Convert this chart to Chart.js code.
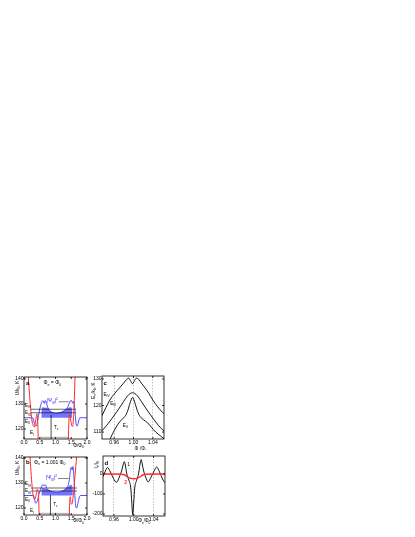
<!DOCTYPE html>
<html><head><meta charset="utf-8">
<script src="https://cdn.jsdelivr.net/npm/chart.js@4.4.1/dist/chart.umd.min.js"></script>
<style>
html,body{margin:0;padding:0;background:#fff;width:415px;height:537px;overflow:hidden}
canvas{position:absolute;background:transparent}
</style></head><body>
<canvas id="ca" width="86" height="82" style="left:6px;top:368px;width:86px;height:82px"></canvas>
<canvas id="cb" width="86" height="82" style="left:6px;top:448px;width:86px;height:82px"></canvas>
<canvas id="cc" width="80" height="82" style="left:88px;top:368px;width:80px;height:82px"></canvas>
<canvas id="cd" width="80" height="82" style="left:88px;top:448px;width:80px;height:82px"></canvas>
<script>
// ---------------- DATA ----------------
// tick labels
const xTicksAB = [0.0, 0.5, 1.0, 1.5, 2.0];
const yTicksAB = [120, 130, 140];
const xTicksCD = [0.96, 1.00, 1.04];
const yTicksC = [110, 120, 130];
const yTicksD = [0, -100, -200];

// Panel a : Phi_e = Phi_0
const potALeftX  = [0.10, 0.137, 0.18, 0.22, 0.26, 0.30, 0.33, 0.36, 0.39, 0.41, 0.43, 0.45, 0.46];
const potALeftY  = [152, 141, 133, 127, 122.8, 121.2, 120.8, 122.5, 125, 126.1, 124, 116, 105];
const potARightX = [1.40, 1.41, 1.43, 1.45, 1.48, 1.51, 1.54, 1.56, 1.58, 1.60, 1.62, 1.64];
const potARightY = [105, 116, 124, 126, 124, 121.5, 121, 122.5, 127, 133, 141, 150];
const psiAX = [0.00, 0.28, 0.31, 0.35, 0.39, 0.43, 0.47, 0.52, 0.57, 0.61, 0.645, 0.68, 0.72, 0.76, 0.82, 0.90, 1.00, 1.10, 1.20, 1.30, 1.38, 1.43, 1.47, 1.51, 1.545, 1.58, 1.61, 1.63, 1.655, 1.69, 1.73, 1.77, 2.00];
const psiAY = [124.5, 124.5, 123.2, 121.5, 121.2, 123, 126, 129, 130.9, 131.3, 130.2, 131.4, 130, 128.5, 127.3, 126.6, 126.2, 126.4, 126.8, 127.6, 128.6, 130, 131.2, 131.4, 130.3, 131.1, 128.5, 125, 122, 121.2, 122.8, 124.5, 124.5];
const bandAX = [0.55, 0.60, 0.65, 0.70, 0.76, 0.82, 0.90, 1.00, 1.10, 1.20, 1.30, 1.38, 1.43, 1.48, 1.53];
const bandAY = [127.5, 128.8, 128.5, 128.6, 128.2, 127.3, 126.6, 126.2, 126.4, 126.8, 127.6, 128.3, 128.6, 128.8, 127.8];
const baseA = 124.5;
const levelsA = [127.9, 126.5];          // E_IV, E_III
const levelSpanA = [0.20, 1.65];
const levelEIA = 116.6; const spanEIA = [0.50, 1.42];
const tcA = 0.86; const tcSpanA = [116, 125.6];

// Panel b : Phi_e = 1.001 Phi_0
const potBLeftX  = [0.15, 0.19, 0.23, 0.27, 0.30, 0.34, 0.38, 0.42, 0.45, 0.47, 0.48, 0.49];
const potBLeftY  = [148, 140.5, 133, 127, 124.5, 123.5, 125, 127.5, 126.5, 122, 117, 110];
const potBRightX = [1.43, 1.44, 1.45, 1.47, 1.49, 1.52, 1.55, 1.58, 1.62, 1.67, 1.70];
const potBRightY = [110, 118, 123, 124.5, 122, 121.5, 123.5, 127, 133, 140.5, 146];
const psiBX = [0.00, 0.30, 0.33, 0.37, 0.41, 0.45, 0.50, 0.55, 0.60, 0.64, 0.68, 0.72, 0.78, 0.85, 0.95, 1.05, 1.15, 1.25, 1.33, 1.40, 1.44, 1.47, 1.50, 1.53, 1.555, 1.575, 1.60, 1.62, 1.645, 1.67, 1.71, 1.75, 1.79, 2.00];
const psiBY = [125, 125, 123.8, 122, 122.3, 124.2, 126.5, 128.3, 129.4, 128.8, 129.3, 127.8, 127.2, 126.7, 126.4, 126.3, 126.5, 127, 127.8, 129, 131.5, 134.5, 136.3, 135.2, 136.6, 134, 129, 124, 120.5, 120, 121.8, 124, 125, 125];
const bandBX = [0.55, 0.60, 0.66, 0.72, 0.78, 0.85, 0.95, 1.05, 1.15, 1.25, 1.33, 1.40, 1.45, 1.50, 1.55];
const bandBY = [127.3, 128, 127.8, 127.6, 127.2, 126.7, 126.4, 126.3, 126.5, 127, 127.8, 128.5, 129, 129.3, 128.2];
const baseB = 125;
const levelsB = [128.0, 126.8];
const levelSpanB = [0.22, 1.68];
const levelEIB = 117.8; const spanEIB = [0.50, 1.44];
const tcB = 0.84; const tcSpanB = [117.2, 125.2];

// Panel c : energy levels vs Phi_e/Phi_0
const eIVX  = [0.935, 0.943, 0.951, 0.961, 0.971, 0.980, 0.986, 0.990, 0.994, 0.998, 1.002, 1.006, 1.011, 1.016, 1.024, 1.032, 1.040, 1.050, 1.060, 1.065];
const eIVY  = [116.2, 119.2, 122, 124.5, 126.6, 128.5, 129.8, 130.3, 129.3, 128.2, 129.3, 130.3, 129.8, 128.5, 126.6, 124.5, 122, 119.5, 117.4, 116.6];
const eIIIX = [0.935, 0.945, 0.955, 0.965, 0.975, 0.984, 0.991, 0.998, 1.005, 1.012, 1.021, 1.031, 1.041, 1.051, 1.061, 1.065];
const eIIIY = [110.5, 112.6, 115, 117.5, 120.2, 122.7, 124.2, 124.8, 124.2, 122.7, 120.2, 117.5, 115, 112.6, 110.7, 110.1];
const eIIX  = [0.945, 0.952, 0.960, 0.968, 0.975, 0.982, 0.988, 0.993, 0.998, 1.003, 1.008, 1.014, 1.021, 1.029, 1.037, 1.046, 1.056, 1.065];
const eIIY  = [104.5, 107.5, 110.5, 113, 114.6, 115.8, 118, 121, 123, 121, 118, 115.8, 114.6, 113.5, 111.8, 110, 108.5, 107.2];

// Panel d : current vs Phi_e/Phi_0
const curve1X = [0.935, 0.941, 0.947, 0.953, 0.959, 0.965, 0.971, 0.976, 0.979, 0.981, 0.983, 0.986, 0.990, 0.994, 0.996, 0.998, 1.000, 1.002, 1.006, 1.010, 1.013, 1.015, 1.017, 1.020, 1.024, 1.029, 1.035, 1.041, 1.046, 1.052, 1.058, 1.063, 1.065];
const curve1Y = [-30, 5, 32, 10, -22, -42, -15, 20, 50, 62, 45, 0, -30, -70, -140, -205, -140, -70, -30, 5, 55, 72, 50, 15, -15, -40, -15, 15, 35, 10, -25, -42, -35];
const curve2X = [0.935, 0.960, 0.975, 0.982, 0.988, 0.994, 1.000, 1.006, 1.012, 1.018, 1.025, 1.040, 1.065];
const curve2Y = [0, 0, -1, -5, -15, -22, -24, -22, -15, -5, -1, 0, 0];

// ---------------- RENDERING ----------------
const FONT = '"Liberation Sans", Arial, sans-serif';
const RED = '#ff2a2a', BLUE = '#2323ff', BAND = 'rgba(30,30,255,0.62)';
const pts = (xs, ys) => xs.map((x, i) => ({x, y: ys[i]}));
const hline = (y, span) => [{x: span[0], y}, {x: span[1], y}];
const vline = (x, span) => [{x, y: span[0]}, {x, y: span[1]}];

function richParts(str){
  const parts=[]; let i=0, buf='';
  while(i<str.length){
    const c=str[i];
    if((c==='_'||c==='^') && i+1<str.length){
      if(buf){parts.push({t:buf,m:0});buf='';}
      let t;
      if(str[i+1]==='{'){const j=str.indexOf('}',i); t=str.slice(i+2,j); i=j+1;}
      else {t=str[i+1]; i+=2;}
      parts.push({t, m: c==='_'?1:2});
    } else {buf+=c;i++;}
  }
  if(buf)parts.push({t:buf,m:0});
  return parts;
}
function drawRich(ctx, str, x, y, o){
  const size=o.size||5;
  const parts=richParts(str);
  const fontFor=m=>`${o.bold?'bold ':''}${m?(size*0.7).toFixed(2):size}px ${FONT}`;
  let w=0;
  parts.forEach(p=>{ctx.font=fontFor(p.m); p.w=ctx.measureText(p.t).width; w+=p.w;});
  let cx = o.align==='center'? x-w/2 : o.align==='right'? x-w : x;
  ctx.save(); ctx.fillStyle=o.color||'#000'; ctx.textBaseline='alphabetic';
  const base=y+size*0.36;
  parts.forEach(p=>{ctx.font=fontFor(p.m); const dy=p.m===1?size*0.3:p.m===2?-size*0.42:0; ctx.fillText(p.t,cx,base+dy); cx+=p.w;});
  ctx.restore();
}
function makeDecor(spec){
  return {
    id:'decor',
    afterDraw(chart){
      const {ctx, chartArea:ca, scales:{x,y}} = chart;
      ctx.save();
      ctx.strokeStyle='#000'; ctx.lineWidth=0.8;
      ctx.strokeRect(ca.left, ca.top, ca.right-ca.left, ca.bottom-ca.top);
      ctx.beginPath();
      x.ticks.forEach(t=>{const p=x.getPixelForValue(t.value); ctx.moveTo(p,ca.bottom); ctx.lineTo(p,ca.bottom-2); ctx.moveTo(p,ca.top); ctx.lineTo(p,ca.top+2);});
      y.ticks.forEach(t=>{const p=y.getPixelForValue(t.value); ctx.moveTo(ca.left,p); ctx.lineTo(ca.left+2,p); ctx.moveTo(ca.right,p); ctx.lineTo(ca.right-2,p);});
      ctx.stroke();
      (spec.leaders||[]).forEach(l=>{
        ctx.beginPath(); ctx.strokeStyle=l.color||'#000'; ctx.lineWidth=0.6;
        ctx.moveTo(x.getPixelForValue(l.x1), y.getPixelForValue(l.y1));
        ctx.lineTo(x.getPixelForValue(l.x2), y.getPixelForValue(l.y2));
        ctx.stroke();
      });
      (spec.notes||[]).forEach(n=>drawRich(ctx,n.t,x.getPixelForValue(n.x),y.getPixelForValue(n.y),n));
      if(spec.xTitle){const o=spec.xTitle; drawRich(ctx,o.t,x.getPixelForValue(o.x),ca.bottom+o.dy,o);}
      if(spec.yTitle){const o=spec.yTitle; ctx.save(); ctx.translate(ca.left+o.dx, y.getPixelForValue(o.y)); ctx.rotate(-Math.PI/2); drawRich(ctx,o.t,0,0,Object.assign({},o,{align:'center'})); ctx.restore();}
      ctx.restore();
    }
  };
}
function axis(min, max, ticksArr, fmt, size, grid){
  return {
    type:'linear', min, max,
    afterBuildTicks: s => { s.ticks = ticksArr.map(v => ({value: v})); },
    ticks:{font:{size:5,family:FONT}, color:'#000', padding:0.5, callback:fmt, autoSkip:false, maxRotation:0, minRotation:0},
    grid:{display:!!grid, drawOnChartArea:true, drawTicks:false, color:'#9a9a9a', lineWidth:0.6},
    border:{display:false, dash: grid ? [1.5,1.5] : []},
    afterFit: s => { if (s.isHorizontal()) s.height = size; else s.width = size; }
  };
}
function ds(data, color, width, extra){
  return Object.assign({data, borderColor:color, backgroundColor:color, borderWidth:width, pointRadius:0, fill:false, tension:0}, extra||{});
}
function chart(id, datasets, scales, padding, spec){
  return new Chart(document.getElementById(id), {
    type:'line',
    data:{datasets},
    options:{
      responsive:false, animation:false, events:[], devicePixelRatio:1,
      layout:{padding},
      scales,
      plugins:{legend:{display:false}, tooltip:{enabled:false}}
    },
    plugins:[makeDecor(spec)]
  });
}
const mono = {cubicInterpolationMode:'monotone'};

// Panel a
chart('ca', [
  ds(pts(potALeftX, potALeftY), RED, 1, mono),
  ds(pts(potARightX, potARightY), RED, 1, mono),
  ds(hline(levelsA[0], levelSpanA), '#000', 0.6),
  ds(hline(levelsA[1], levelSpanA), '#000', 0.6),
  ds(vline(tcA, tcSpanA), '#000', 0.7),
  ds(hline(levelEIA, spanEIA), '#b8b8b8', 1.4),
  ds(pts(psiAX, psiAY), BLUE, 0.8, mono),
  ds(pts(bandAX, bandAY), BAND, 0, Object.assign({fill:{value:baseA}, backgroundColor:BAND}, mono))
], {
  x: axis(0, 2, xTicksAB, v => v.toFixed(1), 11),
  y: axis(116, 140.8, yTicksAB, v => String(v), 18)
}, {top:9, right:5, left:0, bottom:0}, {
  notes:[
    {t:'a', x:0.06, y:138.6, size:6, bold:true},
    {t:'Φ_e = Φ_0', x:0.62, y:138.6, size:5},
    {t:'E_{IV}', x:0.03, y:129.6, size:4.6},
    {t:'E_{III}', x:0.03, y:126.6, size:4.6},
    {t:'E_{II}', x:0.03, y:123.2, size:4.6},
    {t:'E_I', x:0.19, y:118.6, size:4.6},
    {t:'T_c', x:0.95, y:120.8, size:4.6},
    {t:'|Ψ_{III}|^2', x:0.72, y:131.4, size:4.8, color:BLUE}
  ],
  leaders:[{x1:1.10, y1:130.9, x2:1.42, y2:130.9, color:'#333'}],
  xTitle:{t:'Φ/Φ_0', x:1.73, dy:6, size:4.6, align:'center'},
  yTitle:{t:'U/k_B, K', dx:-7, y:136.4, size:4.6}
});

// Panel b
chart('cb', [
  ds(pts(potBLeftX, potBLeftY), RED, 1, mono),
  ds(pts(potBRightX, potBRightY), RED, 1, mono),
  ds(hline(levelsB[0], levelSpanB), '#000', 0.6),
  ds(hline(levelsB[1], levelSpanB), '#000', 0.6),
  ds(vline(tcB, tcSpanB), '#000', 0.7),
  ds(hline(levelEIB, spanEIB), '#b8b8b8', 1.4),
  ds(pts(psiBX, psiBY), BLUE, 0.8, mono),
  ds(pts(bandBX, bandBY), BAND, 0, Object.assign({fill:{value:baseB}, backgroundColor:BAND}, mono))
], {
  x: axis(0, 2, xTicksAB, v => v.toFixed(1), 15),
  y: axis(117.2, 140.4, yTicksAB, v => String(v), 18)
}, {top:9, right:5, left:0, bottom:0}, {
  notes:[
    {t:'b', x:0.06, y:138.4, size:6, bold:true},
    {t:'Φ_e = 1.001 Φ_0', x:0.32, y:138.4, size:5},
    {t:'E_{IV}', x:0.03, y:129.8, size:4.6},
    {t:'E_{III}', x:0.03, y:127.0, size:4.6},
    {t:'E_{II}', x:0.03, y:123.5, size:4.6},
    {t:'E_I', x:0.19, y:118.9, size:4.6},
    {t:'T_c', x:0.93, y:121.6, size:4.6},
    {t:'|Ψ_{III}|^2', x:0.70, y:132.2, size:4.8, color:BLUE}
  ],
  leaders:[{x1:1.08, y1:131.8, x2:1.42, y2:131.8, color:'#333'}],
  xTitle:{t:'Φ/Φ_0', x:1.73, dy:5.5, size:4.6, align:'center'},
  yTitle:{t:'U/k_B, K', dx:-7, y:136.0, size:4.6}
});

// Panel c
chart('cc', [
  ds(pts(eIVX, eIVY), '#000', 0.9, mono),
  ds(pts(eIIIX, eIIIY), '#000', 0.9, mono),
  ds(pts(eIIX, eIIY), '#000', 0.9, mono)
], {
  x: axis(0.935, 1.063, xTicksCD, v => v.toFixed(2), 11, true),
  y: axis(107.4, 131.1, yTicksC, v => String(v), 14)
}, {top:8, right:4, left:0, bottom:0}, {
  notes:[
    {t:'c', x:0.938, y:128.6, size:6, bold:true},
    {t:'E_{IV}', x:0.938, y:124.2, size:4.6},
    {t:'E_{III}', x:0.952, y:120.8, size:4.6},
    {t:'E_{II}', x:0.978, y:112.6, size:4.6}
  ],
  xTitle:{t:'Φ_e/Φ_0', x:1.002, dy:9.5, size:4.6},
  yTitle:{t:'E_n/k_B, K', dx:-9, y:125.6, size:4.6}
});

// Panel d
chart('cd', [
  ds(pts(curve2X, curve2Y), RED, 1.4, mono),
  ds(pts(curve1X, curve1Y), '#000', 0.9, mono)
], {
  x: axis(0.938, 1.063, xTicksCD, v => v.toFixed(2), 14, true),
  y: axis(-210, 90, yTicksD, v => String(v), 15)
}, {top:8, right:3, left:0, bottom:0}, {
  notes:[
    {t:'d', x:0.941, y:58, size:6, bold:true},
    {t:'1', x:0.987, y:48, size:4.8},
    {t:'2', x:0.981, y:-40, size:5, color:RED, bold:true}
  ],
  xTitle:{t:'Φ_e/Φ_0', x:1.009, dy:4.5, size:4.6},
  yTitle:{t:'I_c/I_0', dx:-7, y:45, size:4.6}
});
</script>
</body></html>
